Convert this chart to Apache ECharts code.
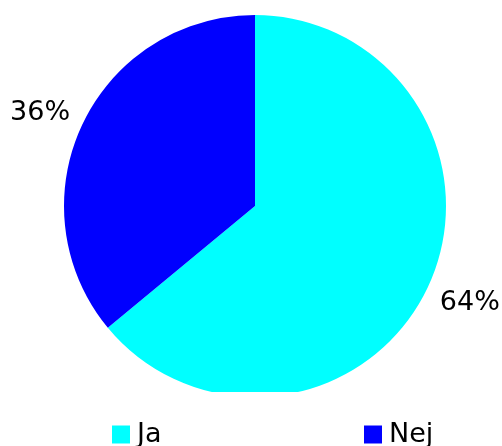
<!DOCTYPE html>
<html>
<head>
<meta charset="utf-8">
<script src="https://cdn.jsdelivr.net/npm/echarts@6/dist/echarts.min.js"></script>
<style>
  html, body { margin: 0; padding: 0; background: #fff; }
  #chart { width: 502px; height: 446px; }
</style>
</head>
<body>
<div id="chart"></div>
<script>
// Answer categories and their shares (percent)
const categories = ['Ja', 'Nej'];
const shares = [64, 36];
const colors = ['#00ffff', '#0000ff'];

const FONT = 'DejaVu Sans';

const chart = echarts.init(document.getElementById('chart'), null, { renderer: 'canvas' });

const legendBase = {
  orient: 'horizontal',
  top: 421,
  padding: 0,
  icon: 'rect',
  itemWidth: 18,
  itemHeight: 18,
  itemGap: 7,
  selectedMode: false,
  textStyle: { fontFamily: FONT, fontSize: 27, color: '#000', padding: [0, 0, 0, 2] }
};

chart.setOption({
  animation: false,
  color: colors,
  legend: [
    Object.assign({}, legendBase, { left: 112, data: [categories[0]] }),
    Object.assign({}, legendBase, { left: 364, data: [categories[1]] })
  ],
  series: [{
    type: 'pie',
    center: [255, 206],
    radius: [0, 191],
    startAngle: 90,
    clockwise: true,
    avoidLabelOverlap: false,
    silent: true,
    data: categories.map((c, i) => ({ name: c, value: shares[i] })),
    label: {
      show: true,
      position: 'outside',
      formatter: p => p.value + '%',
      fontFamily: FONT,
      fontSize: 27,
      color: '#000',
      distanceToLabelLine: -16
    },
    labelLine: { show: false, length: 31, length2: 0 },
    labelLayout: { dy: 2 }
  }],
  graphic: [{
    // flat cut along the bottom of the pie
    type: 'rect',
    z: 100,
    shape: { x: 0, y: 392, width: 502, height: 26 },
    style: { fill: '#fff' }
  }]
});
</script>
</body>
</html>
